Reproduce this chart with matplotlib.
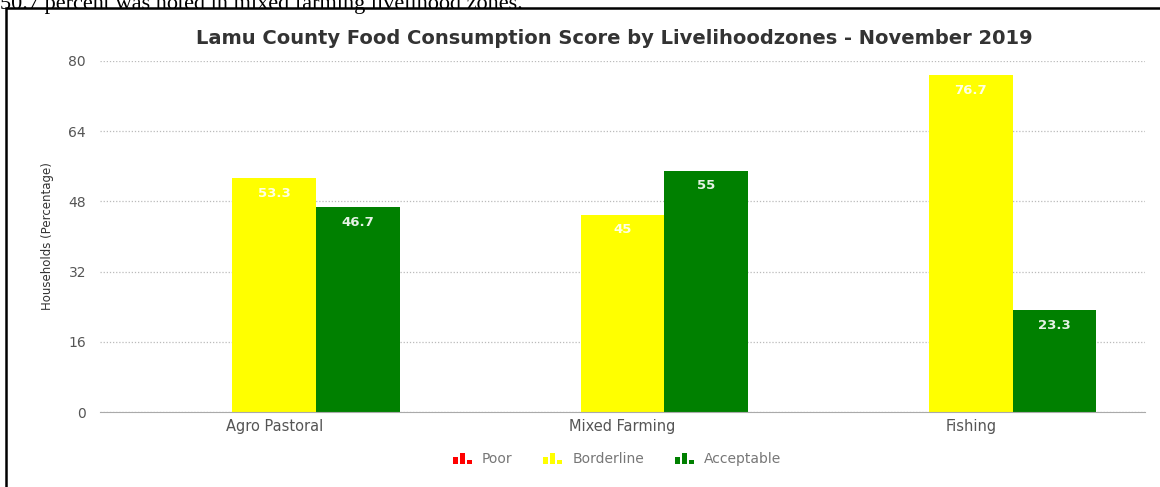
import matplotlib.pyplot as plt
import numpy as np
from matplotlib.legend_handler import HandlerBase
from matplotlib.patches import Rectangle

zones = ["Agro Pastoral", "Mixed Farming", "Fishing"]
poor = [0, 0, 0]
borderline = [53.3, 45, 76.7]
acceptable = [46.7, 55, 23.3]
series_names = ["Poor", "Borderline", "Acceptable"]
series_colors = ["#ff0000", "#ffff00", "#008000"]
yticks = [0, 16, 32, 48, 64, 80]


class BarIconHandler(HandlerBase):
    # small "bar chart" glyph used as legend key
    def create_artists(self, legend, orig_handle, xdescent, ydescent,
                       width, height, fontsize, trans):
        color = orig_handle.get_facecolor()
        w = width / 4.0
        heights = [0.6, 1.0, 0.3]
        arts = []
        for i, h in enumerate(heights):
            r = Rectangle((-xdescent + i * w * 1.4, -ydescent),
                          w, height * h, facecolor=color, edgecolor="none",
                          transform=trans)
            arts.append(r)
        return arts


plt.rcParams['font.family'] = ['DejaVu Sans']
fig = plt.figure(figsize=(11.6, 4.87), dpi=100)

# surrounding text line and frame
fig.text(0.0, 1.0 + 0.012, "50.7 percent was noted in mixed farming livelihood zones.",
         family="Liberation Serif", fontsize=16, ha="left", va="top", color="black")
fig.patches.append(Rectangle((6 / 1160, -0.05), 1.2, 1 - 8 / 487 + 0.05,
                             transform=fig.transFigure, fill=False,
                             edgecolor="black", linewidth=1.8))

ax = fig.add_axes([100 / 1160, 1 - 412 / 487, 1045 / 1160, 351 / 487])
x = np.arange(len(zones))
w = 0.24
groups = [poor, borderline, acceptable]
for i, (vals, name, col) in enumerate(zip(groups, series_names, series_colors)):
    b = ax.bar(x + (i - 1) * w, vals, w, color=col, label=name, zorder=3)
    if i == 0:
        continue
    for rect, v in zip(b, vals):
        ax.text(rect.get_x() + rect.get_width() / 2, v - 2.0, f"{v:g}",
                ha="center", va="top", color="white", fontsize=9.5,
                fontweight="bold", zorder=4, alpha=0.9)

ax.set_xlim(-0.5, 2.5)
ax.set_ylim(0, 80)
ax.set_yticks(yticks)
ax.set_xticks(x)
ax.set_xticklabels(zones)
ax.tick_params(axis="both", length=0, colors="#555555")
ax.tick_params(axis="y", pad=10, labelsize=10)
ax.tick_params(axis="x", pad=5, labelsize=10.5)
ax.yaxis.grid(True, linestyle=(0, (1, 1.5)), color="#bbbbbb", linewidth=0.9, zorder=0)
for s in ["top", "right", "left"]:
    ax.spines[s].set_visible(False)
ax.spines["bottom"].set_color("#aaaaaa")
ax.spines["bottom"].set_zorder(5)
ax.set_ylabel("Households (Percentage)", fontsize=8.5, color="#333333", labelpad=10)

fig.text(614 / 1160, 1 - 38 / 487,
         "Lamu County Food Consumption Score by Livelihoodzones - November 2019",
         ha="center", va="center", fontsize=14, fontweight="bold", color="#333333")

handles = [Rectangle((0, 0), 1, 1, facecolor=c) for c in series_colors]
fig.legend(handles, series_names, loc="center", bbox_to_anchor=(617 / 1160, 1 - 459 / 487),
           ncol=3, frameon=False, fontsize=10, handler_map={Rectangle: BarIconHandler()},
           handlelength=1.45, handleheight=0.85, handletextpad=0.65, columnspacing=2.2,
           labelcolor="#777777")

fig.savefig("out.png", dpi=100)
